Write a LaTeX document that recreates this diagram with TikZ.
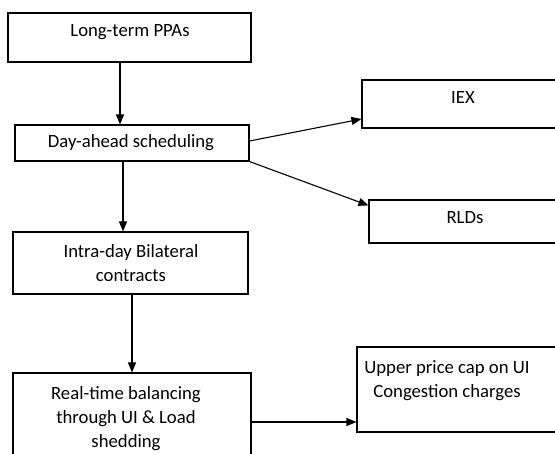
\documentclass[tikz,border=0pt]{standalone}
\usepackage{fontspec}
\setmainfont{Carlito}
\usetikzlibrary{arrows.meta}

\begin{document}
\begin{tikzpicture}[x=1pt, y=-1pt,
    box/.style={draw, line width=1.1pt, inner sep=0pt},
    txt/.style={align=center, anchor=base, inner sep=0pt, font=\fontsize{18.7}{24}\selectfont},
    arr/.style={line width=1.1pt, -{Triangle[length=10pt, width=8pt]}}]
      \useasboundingbox (0,0) rectangle (555,454);
      \clip (0,0) rectangle (555,454);

      \node[box, minimum width=243, minimum height=49] (ppa) at (129.5,37.5) {};
      \node[box, minimum width=234, minimum height=36] (day) at (132,143) {};
      \node[box, minimum width=235, minimum height=62] (intra) at (130.5,263) {};
      \node[box, minimum width=238, minimum height=98] (rt) at (132,422) {};
      \node[box, minimum width=202, minimum height=48] (iex) at (463,104) {};
      \node[box, minimum width=192, minimum height=43] (rld) at (465,221.5) {};
      \node[box, minimum width=206, minimum height=85] (upc) at (460,389.5) {};

      \node[txt] (ppatxt) at (130,37) {Long-term PPAs};
      \node[txt] (daytxt) at (131,148) {Day-ahead scheduling};
      \node[txt] (iextxt) at (463,104) {IEX};
      \node[txt] (rldtxt) at (465,224) {RLDs};
      \node[txt] (intratxt) at (131,282) {Intra-day Bilateral\\contracts};
      \node[txt] (rttxt) at (126,448) {Real-time balancing\\through UI \& Load\\shedding};
      \node[txt] (upctxt) at (447,398) {Upper price cap on UI\\Congestion charges};

      \draw[arr] ([xshift=-9.5]ppa.south) -- ([xshift=-9.5]ppa.south |- day.north);
      \draw[arr] ([xshift=-9]day.south) -- ([xshift=-9]day.south |- intra.north);
      \draw[arr] ([xshift=1.5]intra.south) -- ([xshift=1.5]intra.south |- rt.north);
      \draw[arr] (rt.east) -- (rt.east -| upc.west);
      \draw[arr] ([yshift=2]day.east) -- ([yshift=-15]iex.west);
      \draw[arr] (day.south east) -- ([yshift=-6]rld.north west);

    \end{tikzpicture}
\end{document}
